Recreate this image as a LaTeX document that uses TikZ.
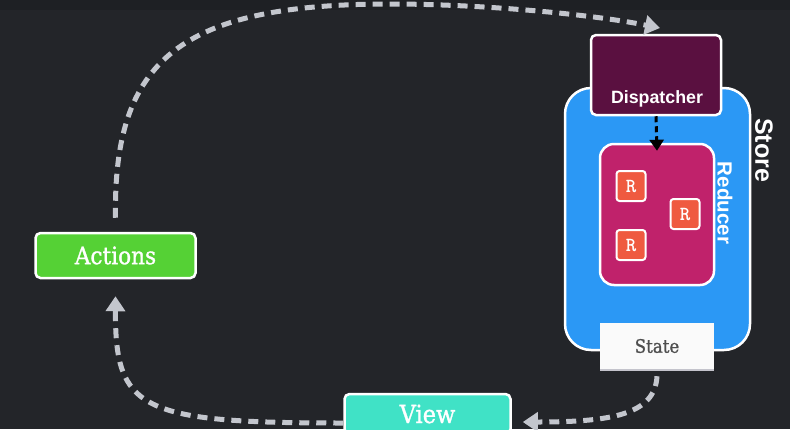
\documentclass[tikz,border=0pt]{standalone}
\usepackage{fontspec}
\setmainfont{DejaVu Serif}
\setsansfont{Liberation Sans}
\newfontfamily\slab[FakeStretch=0.9, FakeBold=1.2]{DejaVu Serif}
\usetikzlibrary{arrows.meta}
\definecolor{bg}{HTML}{232529}
\definecolor{topbar}{HTML}{1E2024}
\definecolor{dashgrey}{HTML}{C3C6CD}
\definecolor{actgreen}{HTML}{55D135}
\definecolor{viewteal}{HTML}{40E2C6}
\definecolor{storeblue}{HTML}{2B98F5}
\definecolor{dispmag}{HTML}{5A1040}
\definecolor{redmag}{HTML}{C0226B}
\definecolor{rred}{HTML}{EF5A40}
\definecolor{statetext}{HTML}{4E4E4E}
\definecolor{shadowgrey}{HTML}{C4C4CC}
\tikzset{
  flow/.style={draw=dashgrey, line width=5pt, dash pattern=on 10pt off 7pt,
    -{Triangle[length=15pt,width=19pt]}},
  whitebox/.style={draw=white, line width=2.5pt},
  actbox/.style={whitebox, fill=actgreen, rounded corners=5pt, minimum width=160pt,
    minimum height=45pt, text=white, font=\slab\fontsize{24}{28}\selectfont},
  viewbox/.style={whitebox, fill=viewteal, rounded corners=5pt, minimum width=166pt,
    minimum height=40pt, text=white, font=\slab\fontsize{25}{28}\selectfont},
  storebox/.style={whitebox, fill=storeblue, rounded corners=26pt, minimum width=185pt,
    minimum height=262pt},
  dispbox/.style={whitebox, fill=dispmag, rounded corners=5pt, minimum width=130pt,
    minimum height=80pt},
  redbox/.style={whitebox, fill=redmag, rounded corners=14pt, minimum width=114pt,
    minimum height=141pt},
  rbox/.style={draw=white, line width=2pt, fill=rred, rounded corners=3pt,
    minimum width=29pt, minimum height=30pt, inner sep=0pt, text=white,
    font=\ttfamily\bfseries\fontsize{20}{24}\selectfont},
  statebox/.style={fill=white!98!black, minimum width=114pt, minimum height=46pt,
    text=statetext, font=\slab\fontsize{18.5}{22}\selectfont},
  sanslbl/.style={text=white, font=\sffamily\bfseries},
}
\begin{document}
\begin{tikzpicture}[x=1pt,y=-1pt]
\useasboundingbox (0,0) rectangle (790,429);
\clip (0,0) rectangle (790,429);
\fill[bg] (0,0) rectangle (790,429);
\fill[topbar] (0,0) rectangle (790,10);

% store
\node[storebox] (store) at (657.5,219) {};
\node[redbox] (red) at (657,214.5) {};
\node[rbox] (r1) at (631,186) {R};
\node[rbox] (r2) at (685,214) {R};
\node[rbox] (r3) at (631,245) {R};
\node[dispbox] (disp) at (656,75) {};
\node[sanslbl, font=\sffamily\bfseries\fontsize{17.8}{20}\selectfont] (disptext) at (657,99) {Dispatcher};
\node[sanslbl, rotate=-90, font=\sffamily\bfseries\fontsize{20.5}{24}\selectfont] (redlbl) at (725,203) {Reducer};
\node[sanslbl, rotate=-90, font=\sffamily\bfseries\fontsize{25}{30}\selectfont] (storelbl) at (764,150) {Store};
\fill[shadowgrey] (600,367) rectangle (714,371);
\node[statebox] (state) at (657,346) {State};

% actions, view
\node[actbox] (act) at (115.5,255.5) {Actions};
\node[viewbox] (view) at (427.5,414) {View};

\coordinate (topend) at (660,28);

% dispatcher -> reducer
\draw[black, line width=3pt, dash pattern=on 6pt off 4pt, -{Triangle[length=11pt,width=14pt]}]
  (disp.south) -- ([yshift=-8pt]red.north);

% flows
\draw[flow] ([yshift=14pt]act.north) .. controls (113,60) and (180,4) .. (390,4)
  .. controls (480,4) and (590,14) .. (topend);
\draw[flow] ([yshift=-7pt]state.south) .. controls (655,415) and (610,422) .. ([xshift=11pt,yshift=-8pt]view.east);
\draw[flow] ([yshift=-9pt]view.west) .. controls (140,423) and (115,410) .. ([yshift=-17pt]act.south);
\end{tikzpicture}
\end{document}
